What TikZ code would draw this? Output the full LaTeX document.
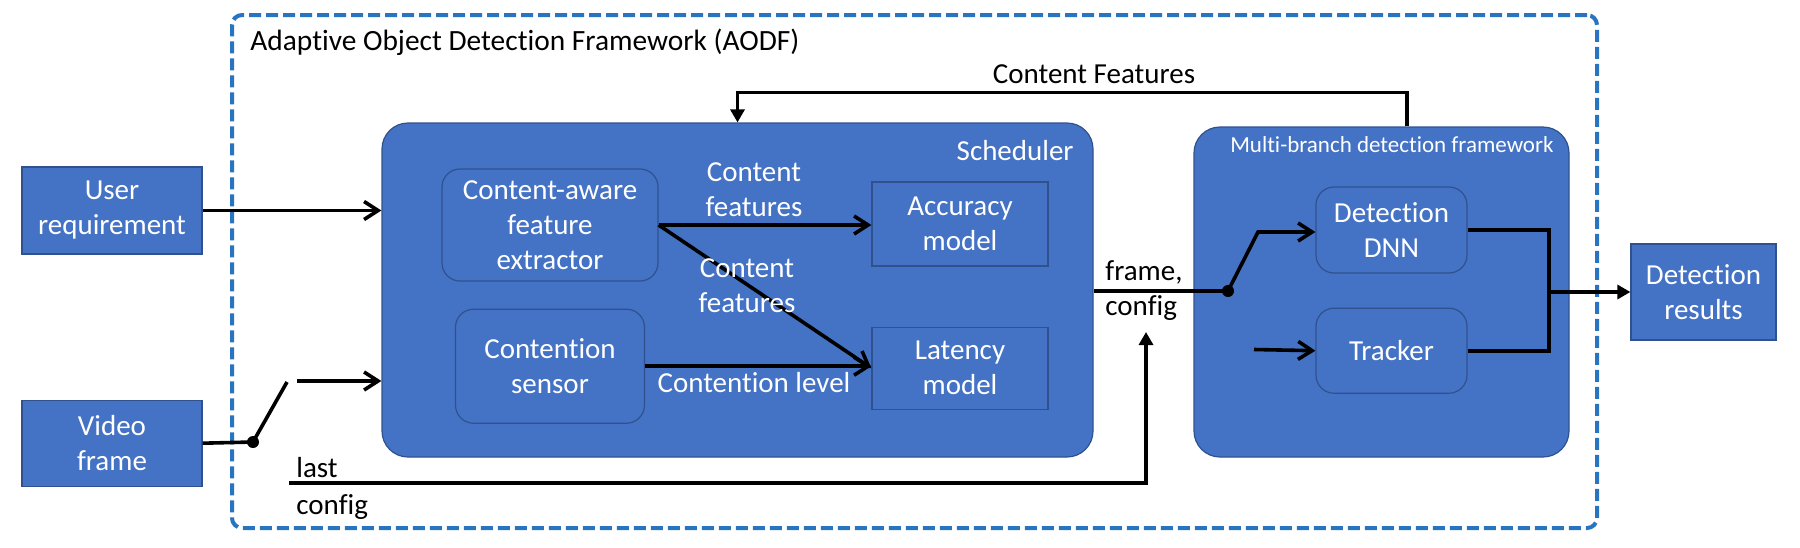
\documentclass[tikz,border=0pt]{standalone}
\usepackage{fontspec}
\setmainfont{Carlito}[Ligatures=NoCommon]
\usepackage{tikz}
\usetikzlibrary{arrows.meta,positioning,calc}
\usepackage{xcolor}

\definecolor{BoxBlue}{HTML}{4472C4}
\definecolor{BoxEdge}{HTML}{2F528F}
\definecolor{FrameBlue}{HTML}{2874C0}

\newcommand{\mainsize}{\fontsize{14.5}{17.5}\selectfont}
\newcommand{\smallsize}{\fontsize{11.5}{14}\selectfont}

\tikzset{
    % Sharp-cornered blue boxes
    io box/.style={
        rectangle,
        draw=BoxEdge,
        line width=0.6pt,
        fill=BoxBlue,
        text=white,
        align=center,
        inner sep=2pt,
        font=\mainsize
    },
    module/.style={
        io box,
        rounded corners=13pt
    },
    submodule/.style={
        io box,
        rounded corners=9pt
    },
    aodf frame/.style={
        rectangle,
        draw=FrameBlue,
        line width=2pt,
        dash pattern=on 6pt off 2.5pt,
        rounded corners=5pt
    },
    open arrow/.style={
        -{Straight Barb[length=7pt,width=9pt]},
        line width=1.8pt,
        color=black
    },
    solid arrow/.style={
        -{Triangle[length=6.5pt,width=7pt]},
        line width=1.6pt,
        color=black
    },
    plain line/.style={
        line width=1.8pt,
        color=black
    },
    label text/.style={
        font=\mainsize,
        align=center,
        inner sep=0pt
    },
    white label/.style={
        label text,
        text=white
    }
}

\begin{document}
\begin{tikzpicture}[x=0.5pt, y=-0.5pt]
        \useasboundingbox (0,0) rectangle (1800,547);

        % Outer framework
        \node[aodf frame, minimum width=682.5pt, minimum height=256.5pt] (aodf) at (914.5,271.5) {};
        \node[label text, font=\fontsize{14.7}{17.5}\selectfont, anchor=base west] (title) at (250,50) {Adaptive Object Detection Framework (AODF)};

        % Inputs and output
        \node[io box, minimum width=90pt, minimum height=43.5pt] (user) at (112,210.5) {User\\requirement};
        \node[io box, minimum width=90pt, minimum height=43pt, below=72.5pt of user] (video) {Video\\frame};
        \node[io box, minimum width=72.5pt, minimum height=48pt] (result) at (1703.5,292) {Detection\\results};

        % Scheduler
        \node[module, minimum width=355.5pt, minimum height=167pt] (sched) at (737.5,290) {};
        \node[white label, anchor=base east] (schedname) at (1074,160) {Scheduler};
        \node[submodule, minimum width=108pt, minimum height=56pt] (cafe) at (550,225) {Content-aware\\feature\\extractor};
        \node[submodule, minimum width=94.5pt, minimum height=57pt, below=13.5pt of cafe] (sensor) {Contention\\sensor};
        \node[io box, minimum width=88pt, minimum height=42pt] (acc) at (960,224) {Accuracy\\model};
        \node[io box, minimum width=88pt, minimum height=41pt, below=30pt of acc] (lat) {Latency\\model};

        % Multi-branch detection
        \node[module, minimum width=187.5pt, minimum height=165pt] (mbf) at (1381.5,292) {};
        \node[white label, font=\smallsize, anchor=base east] (mbfname) at (1554,152) {Multi-branch detection framework};
        \node[submodule, minimum width=75.5pt, minimum height=43pt] (dnn) at (1391.5,230) {Detection\\DNN};
        \node[submodule, minimum width=75.5pt, minimum height=42.5pt, below=17pt of dnn] (trk) {Tracker};

        % Switch points
        \coordinate (vsw) at (253,442);
        \coordinate (vtop) at (287,382);
        \coordinate (vin) at (297,381);
        \coordinate (fsw) at (1228,291);
        \coordinate (ftop) at (1258,232);
        \coordinate (tin) at (1254,349.5);
        \coordinate (merge) at (1549,292);
        \coordinate (lcfg) at (289,483);
        \coordinate (fcin) at (1146,332);

        % Arrows
        \draw[open arrow] (user.east) -- (user.east -| sched.west);
        \draw[plain line] (video.east) -- (vsw) -- (vtop);
        \fill (vsw) circle (3pt);
        \draw[open arrow] (vin) -- (vin -| sched.west);

        \draw[open arrow] (cafe.east) -- (cafe.east -| acc.west);
        \draw[open arrow] (cafe.east) -- (lat.west);
        \draw[open arrow] (sensor.east) -- (sensor.east -| lat.west);
        \node[white label] (cf1) at (754,190) {Content\\features};
        \node[white label] (cf2) at (747,286) {Content\\features};
        \node[white label] (clevel) at (754,383) {Contention level};

        \draw[solid arrow] ([xshift=12.75pt]mbf.north) -- ++(0,-34) -| (sched.north);
        \node[label text, anchor=base] (cfeat) at (1094,83) {Content Features};

        \draw[plain line] (sched.east |- fsw) -- (fsw);
        \draw[open arrow] (fsw) -- (ftop) -- (ftop -| dnn.west);
        \fill (fsw) circle (3pt);
        \draw[open arrow] (tin) -- (trk.west);
        \node[label text, align=left, anchor=west] (fclabel) at (1105,291) {frame,\\config};

        \draw[plain line] (dnn.east) -| (merge) |- (trk.east);
        \draw[solid arrow] (merge) -- (result.west);

        \draw[solid arrow] (lcfg) -| (fcin);
        \node[label text, anchor=base west] (lastlbl) at (296,477) {last};
        \node[label text, anchor=base west] (cfglbl) at (296,514) {config};
    \end{tikzpicture}
\end{document}
